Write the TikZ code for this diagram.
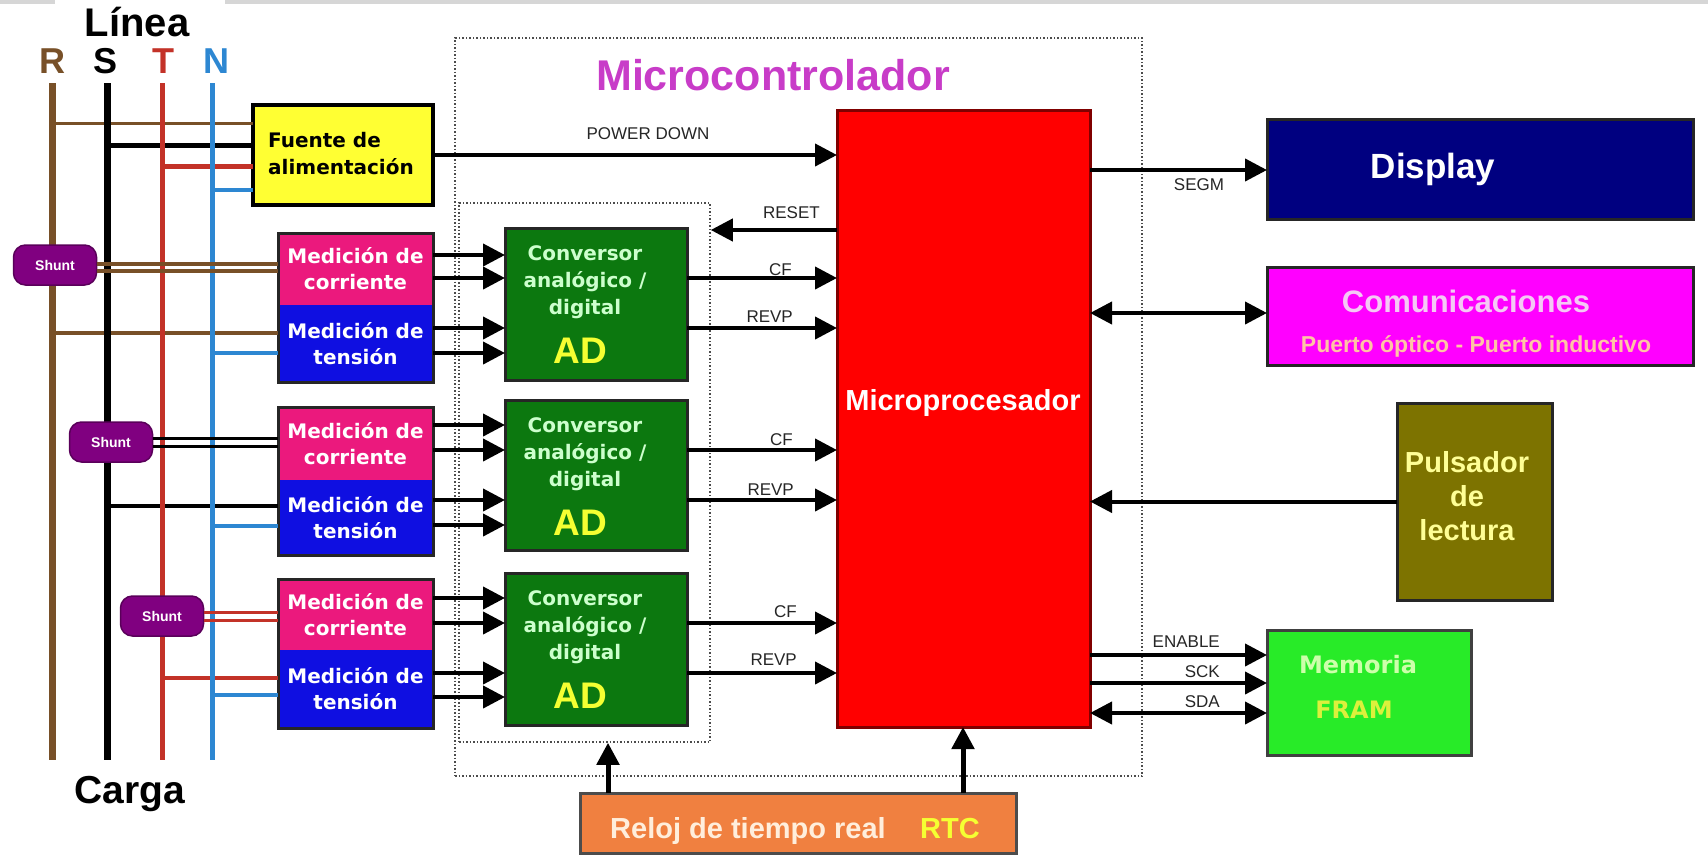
\documentclass[tikz,border=0pt]{standalone}
\usepackage{fontspec}
\setmainfont{Liberation Sans}
\newfontfamily\dvs{DejaVu Sans}
\usetikzlibrary{arrows.meta,calc}
\definecolor{cR}{RGB}{120,80,40}
\definecolor{cT}{RGB}{195,50,40}
\definecolor{cN}{RGB}{45,135,210}
\definecolor{cFuente}{RGB}{255,255,51}
\definecolor{cPink}{RGB}{235,25,125}
\definecolor{cBlue}{RGB}{15,15,225}
\definecolor{cAD}{RGB}{12,120,15}
\definecolor{cADt}{RGB}{205,255,205}
\definecolor{cYel}{RGB}{245,255,50}
\definecolor{cMicro}{RGB}{255,0,0}
\definecolor{cDisp}{RGB}{0,0,128}
\definecolor{cCom}{RGB}{255,0,255}
\definecolor{cComt}{RGB}{245,200,245}
\definecolor{cPuerto}{RGB}{255,195,165}
\definecolor{cPuls}{RGB}{125,115,0}
\definecolor{cPulst}{RGB}{255,255,150}
\definecolor{cMem}{RGB}{40,235,40}
\definecolor{cMemt}{RGB}{205,255,170}
\definecolor{cFram}{RGB}{220,240,60}
\definecolor{cRTC}{RGB}{240,128,64}
\definecolor{cRTCt}{RGB}{255,238,220}
\definecolor{cShunt}{RGB}{128,0,128}
\definecolor{cMCU}{RGB}{200,60,200}
\newcommand{\fsz}[2]{\fontsize{#1}{#2}\selectfont}
\begin{document}
\begin{tikzpicture}[x=1pt,y=-1pt,
  >={Triangle[length=22pt,width=22pt]},
  blk/.style={inner sep=0pt, outer sep=0pt, align=center},
  bord/.style={draw=black!85, line width=3pt},
  sig/.style={line width=4pt, ->},
  bidir/.style={line width=4pt, <->},
  dotbox/.style={draw=black!70, line width=1.5pt, dash pattern=on 1.5pt off 2pt, inner sep=0pt},
  lbl/.style={font=\fsz{17}{17}, text=black!85, inner sep=0pt},
  shunt/.style={fill=cShunt, draw=cShunt!70!black, line width=1.5pt, rounded corners=12pt, minimum width=83pt, minimum height=40pt, inner sep=0pt, text=white, font=\bfseries\fsz{14}{14}},
  medtxt/.style={text=white, font=\dvs\bfseries\fsz{20}{26}},
]
\useasboundingbox (0,0) rectangle (1708,857);
\fill[white] (0,0) rectangle (1708,857);
\fill[black!16] (0,0) rectangle (55,4);
\fill[black!16] (225,0) rectangle (1708,4);

% dotted groups
\node[dotbox, minimum width=687pt, minimum height=738pt] (mcu) at (798.5,407) {};
\node[dotbox, minimum width=251pt, minimum height=539pt] (adgrp) at (584.5,472.5) {};

% boxes
\node[blk, fill=cFuente, draw=black, line width=4pt, minimum width=180pt, minimum height=100pt] (fuente) at (343,155) {};
\node[blk, medtxt, fill=cPink, minimum width=155pt, minimum height=72pt] (mc1) at (355.5,269) {Medición de\\corriente};
\node[blk, medtxt, fill=cBlue, minimum width=155pt, minimum height=77pt] (mt1) at (355.5,343.5) {Medición de\\tensión};
\node[blk, medtxt, fill=cPink, minimum width=155pt, minimum height=73pt] (mc2) at (355.5,443.5) {Medición de\\corriente};
\node[blk, medtxt, fill=cBlue, minimum width=155pt, minimum height=75pt] (mt2) at (355.5,517.5) {Medición de\\tensión};
\node[blk, medtxt, fill=cPink, minimum width=155pt, minimum height=71pt] (mc3) at (355.5,614.5) {Medición de\\corriente};
\node[blk, medtxt, fill=cBlue, minimum width=155pt, minimum height=78pt] (mt3) at (355.5,689) {Medición de\\tensión};
\draw[bord] (mc1.north west) rectangle (mt1.south east);
\draw[bord] (mc2.north west) rectangle (mt2.south east);
\draw[bord] (mc3.north west) rectangle (mt3.south east);

\node[blk, bord, fill=cAD, minimum width=182pt, minimum height=152pt] (ad1) at (596,304) {};
\node[blk, bord, fill=cAD, minimum width=182pt, minimum height=150pt] (ad2) at (596,475) {};
\node[blk, bord, fill=cAD, minimum width=182pt, minimum height=152pt] (ad3) at (596,649) {};
\node[blk, fill=cMicro, draw=red!50!black, line width=3pt, minimum width=253pt, minimum height=617pt] (micro) at (963.5,418.5) {};
\node[blk, bord, fill=cDisp, minimum width=426pt, minimum height=100pt] (disp) at (1480,169) {};
\node[blk, bord, fill=cCom, minimum width=426pt, minimum height=98pt] (com) at (1480,316) {};
\node[blk, bord, fill=cPuls, minimum width=155pt, minimum height=197pt] (puls) at (1474.5,501.5) {};
\node[blk, fill=cMem, draw=black!75, line width=3pt, minimum width=204pt, minimum height=125pt] (mem) at (1369,692.5) {};
\node[blk, fill=cRTC, draw=black!70, line width=3pt, minimum width=436pt, minimum height=60pt] (rtc) at (798,823) {};

% bus lines
\coordinate (Rt) at (52,83);  \coordinate (Rb) at (52,760);
\coordinate (St) at (107,83); \coordinate (Sb) at (107,760);
\coordinate (Tt) at (162,83); \coordinate (Tb) at (162,760);
\coordinate (Nt) at (212,83); \coordinate (Nb) at (212,760);

% taps to the power supply
\draw[cR, line width=3pt] (Rt |- 0,123) -- (fuente.west |- 0,123);
\draw[black, line width=5pt] (St |- 0,145) -- (fuente.west |- 0,145);
\draw[cT, line width=5pt] (Tt |- 0,166) -- (fuente.west |- 0,166);
\draw[cN, line width=4pt] (Nt |- 0,190) -- (fuente.west |- 0,190);
% voltage taps
\draw[cR, line width=4pt] (Rt |- 0,333) -- (mt1.west |- 0,333);
\draw[cN, line width=3.5pt] (Nt |- 0,353) -- (mt1.west |- 0,353);
\draw[black, line width=4pt] (St |- 0,506) -- (mt2.west |- 0,506);
\draw[cN, line width=3.5pt] (Nt |- 0,526) -- (mt2.west |- 0,526);
\draw[cT, line width=3.5pt] (Tt |- 0,678) -- (mt3.west |- 0,678);
\draw[cN, line width=3.5pt] (Nt |- 0,695) -- (mt3.west |- 0,695);

% vertical lines
\draw[cR, line width=7pt] (Rt) -- (Rb);
\draw[black, line width=7pt] (St) -- (Sb);
\draw[cT, line width=5pt] (Tt) -- (Tb);
\draw[cN, line width=5pt] (Nt) -- (Nb);

% shunts
\node[shunt] (sh1) at (55,265) {Shunt};
\node[shunt] (sh2) at (111,442) {Shunt};
\node[shunt] (sh3) at (162,616) {Shunt};
\draw[cR, line width=4pt] (sh1.east |- 0,263.5) -- (mc1.west |- 0,263.5);
\draw[cR, line width=4pt] (sh1.east |- 0,271) -- (mc1.west |- 0,271);
\draw[black, line width=3pt] (sh2.east |- 0,438) -- (mc2.west |- 0,438);
\draw[black, line width=3pt] (sh2.east |- 0,446) -- (mc2.west |- 0,446);
\draw[cT, line width=3pt] (sh3.east |- 0,612.5) -- (mc3.west |- 0,612.5);
\draw[cT, line width=3pt] (sh3.east |- 0,620) -- (mc3.west |- 0,620);

% measurement -> AD
\foreach \y in {255,278} \draw[sig] (mc1.east |- 0,\y) -- (ad1.west |- 0,\y);
\foreach \y in {328,353} \draw[sig] (mt1.east |- 0,\y) -- (ad1.west |- 0,\y);
\foreach \y in {425,450} \draw[sig] (mc2.east |- 0,\y) -- (ad2.west |- 0,\y);
\foreach \y in {500,525} \draw[sig] (mt2.east |- 0,\y) -- (ad2.west |- 0,\y);
\foreach \y in {598,623} \draw[sig] (mc3.east |- 0,\y) -- (ad3.west |- 0,\y);
\foreach \y in {673,697} \draw[sig] (mt3.east |- 0,\y) -- (ad3.west |- 0,\y);

% AD -> micro
\foreach \y in {278,328} \draw[sig] (ad1.east |- 0,\y) -- (micro.west |- 0,\y);
\foreach \y in {450,500} \draw[sig] (ad2.east |- 0,\y) -- (micro.west |- 0,\y);
\foreach \y in {623,673} \draw[sig] (ad3.east |- 0,\y) -- (micro.west |- 0,\y);

% other signals
\draw[sig] (fuente.east) -- (fuente.east -| micro.west);
\draw[sig] (micro.west |- 0,230) -- (adgrp.east |- 0,230);
\draw[sig] (micro.east |- 0,170) -- (disp.west |- 0,170);
\draw[bidir] (micro.east |- 0,313) -- (com.west |- 0,313);
\draw[sig] (puls.west) -- (puls.west -| micro.east);
\draw[sig] (micro.east |- 0,655) -- (mem.west |- 0,655);
\draw[sig] (micro.east |- 0,683) -- (mem.west |- 0,683);
\draw[bidir] (micro.east |- 0,713) -- (mem.west |- 0,713);
\draw[line width=5pt, ->] (rtc.north -| 608,0) -- (adgrp.south -| 608,0);
\draw[line width=5pt, ->] (rtc.north -| 963,0) -- (micro.south -| 963,0);

% signal labels
\node[lbl, anchor=base] (lpd) at (648,139) {POWER DOWN};
\node[lbl, anchor=base east] (lrst) at (820,218) {RESET};
\node[lbl, anchor=base east] (lcf1) at (792,275) {CF};
\node[lbl, anchor=base east] (lrv1) at (793,322) {REVP};
\node[lbl, anchor=base east] (lcf2) at (793,445) {CF};
\node[lbl, anchor=base east] (lrv2) at (794,495) {REVP};
\node[lbl, anchor=base east] (lcf3) at (797,617) {CF};
\node[lbl, anchor=base east] (lrv3) at (797,665) {REVP};
\node[lbl, anchor=base] (lseg) at (1199,190) {SEGM};
\node[lbl, anchor=base east] (len) at (1220,647) {ENABLE};
\node[lbl, anchor=base east] (lsck) at (1220,677) {SCK};
\node[lbl, anchor=base east] (lsda) at (1220,707) {SDA};

% titles
\node[inner sep=0pt, anchor=base, font=\bfseries\fsz{40}{40}] (linea) at (137,36) {Línea};
\node[inner sep=0pt, anchor=base, font=\bfseries\fsz{36}{36}, text=cR] (labR) at (52,73) {R};
\node[inner sep=0pt, anchor=base, font=\bfseries\fsz{36}{36}, text=black] (labS) at (106,73) {S};
\node[inner sep=0pt, anchor=base, font=\bfseries\fsz{36}{36}, text=cT] (labT) at (163,73) {T};
\node[inner sep=0pt, anchor=base, font=\bfseries\fsz{36}{36}, text=cN] (labN) at (216,73) {N};
\node[inner sep=0pt, anchor=base, font=\bfseries\fsz{39}{39}] (carga) at (130,803) {Carga};
\node[inner sep=0pt, anchor=base, font=\bfseries\fsz{43}{43}, text=cMCU] (tmcu) at (773,90) {Microcontrolador};

% box texts
\node[inner sep=0pt, anchor=west, align=left, font=\dvs\bfseries\fsz{20}{27}] (tfu) at (268,154) {Fuente de\\alimentación};
\node[inner sep=0pt, align=center, text=cADt, font=\dvs\bfseries\fsz{20}{27}] (tad1) at (585,282) {Conversor\\analógico /\\digital};
\node[inner sep=0pt, align=center, text=cADt, font=\dvs\bfseries\fsz{20}{27}] (tad2) at (585,454) {Conversor\\analógico /\\digital};
\node[inner sep=0pt, align=center, text=cADt, font=\dvs\bfseries\fsz{20}{27}] (tad3) at (585,627) {Conversor\\analógico /\\digital};
\node[inner sep=0pt, anchor=base, text=cYel, font=\bfseries\fsz{37}{37}] (ta1) at (580,363) {AD};
\node[inner sep=0pt, anchor=base, text=cYel, font=\bfseries\fsz{37}{37}] (ta2) at (580,535) {AD};
\node[inner sep=0pt, anchor=base, text=cYel, font=\bfseries\fsz{37}{37}] (ta3) at (580,708) {AD};
\node[inner sep=0pt, anchor=base, text=white, font=\bfseries\fsz{29}{29}] (tmic) at (963,410) {Microprocesador};
\node[inner sep=0pt, anchor=base, text=white, font=\bfseries\fsz{35}{35}] (tdisp) at (1433,178) {Display};
\node[inner sep=0pt, anchor=base, text=cComt, font=\bfseries\fsz{31}{31}] (tcom) at (1466,312) {Comunicaciones};
\node[inner sep=0pt, anchor=base, text=cPuerto, font=\bfseries\fsz{23}{23}] (tpto) at (1476,352) {Puerto óptico - Puerto inductivo};
\node[inner sep=0pt, align=center, text=cPulst, font=\bfseries\fsz{29}{34}] (tpul) at (1467,496) {Pulsador\\de\\lectura};
\node[inner sep=0pt, anchor=base, text=cMemt, font=\dvs\bfseries\fsz{24}{24}] (tmem) at (1358,673) {Memoria};
\node[inner sep=0pt, anchor=base, text=cFram, font=\dvs\bfseries\fsz{24}{24}] (tfram) at (1354,718) {FRAM};
\node[inner sep=0pt, anchor=base, text=cRTCt, font=\bfseries\fsz{29}{29}] (trel) at (748,838) {Reloj de tiempo real};
\node[inner sep=0pt, anchor=base, text=cYel, font=\bfseries\fsz{29}{29}] (trtc) at (950,838) {RTC};
\end{tikzpicture}
\end{document}
